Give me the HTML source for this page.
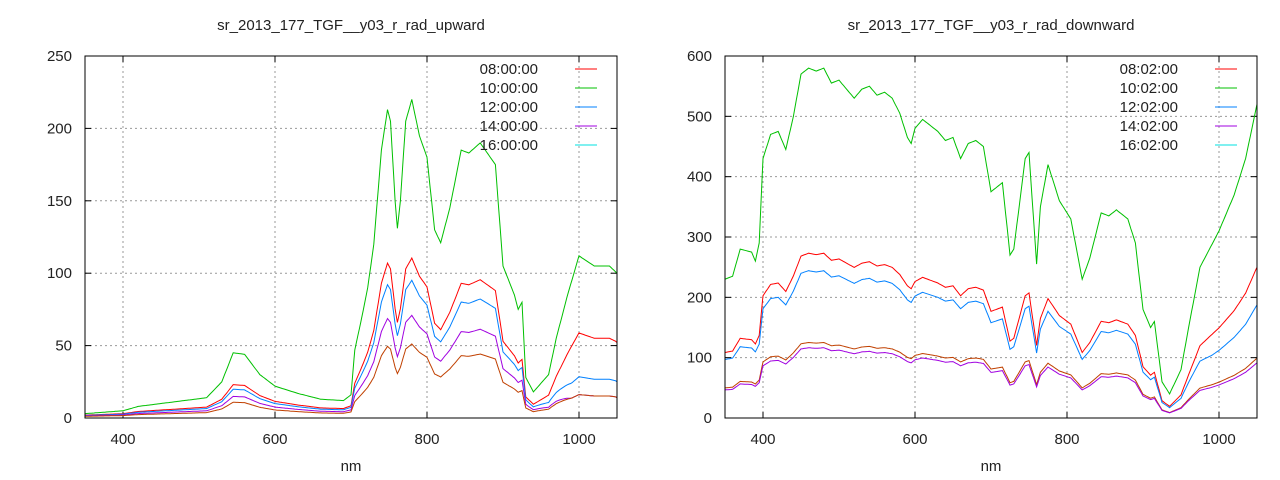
<!DOCTYPE html>
<html><head><meta charset="utf-8"><style>
body{margin:0;background:#fff;}
svg{display:block;font-family:"Liberation Sans",sans-serif;font-size:15px;fill:#222;}
</style></head><body>
<svg id="s" width="1280" height="480" xmlns="http://www.w3.org/2000/svg"></svg>
<script>
const S=document.getElementById('s');let h='';
const gU=[[350,3],[400,5],[420,8],[450,10],[480,12],[510,14],[530,25],[545,45],[560,44],[580,30],[600,22],[630,17],[660,13],[690,12],[700,16],[705,47],[714,69],[722,90],[730,120],[740,185],[748,213],[752,205],[758,150],[761,131],[765,150],[772,205],[780,220],[790,195],[800,180],[810,130],[818,121],[830,145],[845,185],[855,183],[870,190],[890,175],[900,105],[915,85],[920,75],[925,80],[930,28],[940,18],[960,30],[970,55],[985,85],[1000,112],[1020,105],[1040,105],[1050,100]];
const gD=[[350,230],[360,235],[370,280],[385,275],[390,260],[395,290],[400,430],[410,470],[420,475],[430,445],[440,500],[450,570],[460,580],[470,575],[480,580],[490,555],[500,560],[510,545],[520,530],[530,545],[540,550],[550,535],[560,540],[570,530],[580,505],[590,465],[595,455],[600,480],[610,495],[620,485],[630,475],[640,460],[650,465],[660,430],[670,455],[680,460],[690,450],[700,375],[710,385],[715,390],[725,270],[730,280],[745,430],[750,440],[760,255],[765,350],[775,420],[790,360],[800,340],[805,330],[820,230],[830,265],[845,340],[855,335],[865,345],[880,330],[890,290],[900,180],[910,150],[915,160],[925,60],[935,40],[950,80],[960,150],[975,250],[1000,310],[1020,370],[1035,430],[1050,520]];
function panel(x0,ymax,ystep,data,series,title,labels){
 const X=n=>x0+(n-350)*0.76, Y=v=>418-v*362/ymax;
 const x1=X(1050);
 for(let n=400;n<=1000;n+=200){h+=`<line x1="${X(n)}" y1="56" x2="${X(n)}" y2="418" stroke="#999" stroke-dasharray="2,3"/>`;h+=`<text x="${X(n)}" y="444" text-anchor="middle">${n}</text>`;h+=`<line x1="${X(n)}" y1="418" x2="${X(n)}" y2="412" stroke="#000"/><line x1="${X(n)}" y1="56" x2="${X(n)}" y2="62" stroke="#000"/>`;}
 for(let v=0;v<=ymax;v+=ystep){const y=Y(v);if(v>0&&v<ymax)h+=`<line x1="${x0}" y1="${y}" x2="${x1}" y2="${y}" stroke="#999" stroke-dasharray="2,3"/>`;h+=`<text x="${x0-13}" y="${y+5}" text-anchor="end">${v}</text><line x1="${x0}" y1="${y}" x2="${x0+6}" y2="${y}" stroke="#000"/><line x1="${x1}" y1="${y}" x2="${x1-6}" y2="${y}" stroke="#000"/>`;}
 series.forEach(([c,r1,r2])=>{const pts=[];for(let i=0;i<data.length-1;i++){const[a,va]=data[i],[b,vb]=data[i+1];for(let n=a;n<b;n+=2){const v=va+(vb-va)*(n-a)/(b-a);const t=Math.min(1,Math.max(0,(n-930)/60));const r=r1+(r2-r1)*t;pts.push(X(n).toFixed(1)+','+Y(v*r+(c=='#00c000'?0:0.5)).toFixed(1));}}const l=data[data.length-1];pts.push(X(l[0])+','+Y(l[1]*r2));h+=`<polyline points="${pts.join(' ')}" fill="none" stroke="${c}" stroke-width="1"/>`;});
 h+=`<rect x="${x0}" y="56" width="${x1-x0}" height="362" fill="none" stroke="#000"/>`;
 h+=`<text x="${(x0+x1)/2}" y="30" text-anchor="middle">${title}</text><text x="${(x0+x1)/2}" y="471" text-anchor="middle">nm</text>`;
 const lc=['#ff0000','#00c000','#0080ff','#a000e0','#00e0e0'];
 labels.forEach((t,i)=>{const y=69+i*19;h+=`<text x="${x1-79}" y="${y+5}" text-anchor="end">${t}</text><line x1="${x1-42}" y1="${y}" x2="${x1-20}" y2="${y}" stroke="${lc[i]}"/>`;});
}
panel(85,250,50,gU,[['#00c000',1,1],['#ff0000',0.5,0.52],['#0080ff',0.43,0.25],['#a000e0',0.32,0.14],['#c04000',0.23,0.14]],'sr_2013_177_TGF__y03_r_rad_upward',['08:00:00','10:00:00','12:00:00','14:00:00','16:00:00']);
panel(725,600,100,gD,[['#00c000',1,1],['#ff0000',0.47,0.48],['#0080ff',0.42,0.36],['#c04000',0.215,0.19],['#a000e0',0.2,0.175]],'sr_2013_177_TGF__y03_r_rad_downward',['08:02:00','10:02:00','12:02:00','14:02:00','16:02:00']);
S.innerHTML=h;
</script>
</body></html>
